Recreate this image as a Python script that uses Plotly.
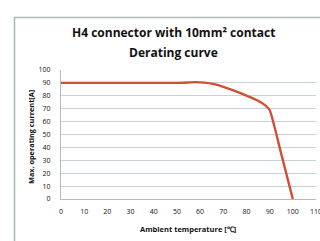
import plotly.graph_objects as go

temps = [0, 10, 20, 30, 40, 50, 55, 58, 62, 66, 70, 75, 80, 85, 88, 90, 95, 100]
current = [90, 90, 90, 90, 90, 90, 90.3, 90.6, 90.2, 89.0, 87.0, 83.8, 80.2, 76.2, 72.8, 69, 35, 0]
x_ticks = [0, 10, 20, 30, 40, 50, 60, 70, 80, 90, 100, 110]
y_ticks = [0, 10, 20, 30, 40, 50, 60, 70, 80, 90, 100]

W, H = 320, 241
L, R, T, B = 61, 4, 70, 42
pw, ph = W - L - R, H - T - B

def px(x):
    return (x - L) / pw

def py(y):
    return (H - B - y) / ph

fig = go.Figure()
fig.add_trace(go.Scatter(x=temps, y=current, mode="lines",
                         line=dict(color="#d24e35", width=2.4, shape="spline", smoothing=0.5),
                         hoverinfo="skip", showlegend=False))

fig.update_layout(
    width=W, height=H,
    margin=dict(l=L, r=R, t=T, b=B, autoexpand=False),
    paper_bgcolor="white", plot_bgcolor="white",
    font=dict(family="Open Sans", color="#111"),
    xaxis=dict(range=[0, 110], tickvals=x_ticks, showgrid=False, zeroline=False,
               showline=True, linecolor="#b8b8b8", linewidth=1, automargin=False,
               tickfont=dict(size=7, color="#111"), ticks="", ticklabelstandoff=6,
               ticklabeloverflow="allow"),
    yaxis=dict(range=[0, 100], tickvals=y_ticks, showgrid=True, gridcolor="#c5d3d8",
               gridwidth=1, zeroline=False, showline=True, linecolor="#b8b8b8",
               linewidth=1, automargin=False, tickfont=dict(size=7, color="#111"),
               ticks="", ticklabelstandoff=8),
    shapes=[dict(type="rect", xref="paper", yref="paper",
                 x0=px(14.5), y0=py(300), x1=px(340), y1=py(17.5),
                 line=dict(color="#b0b8b8", width=1.6), layer="below")],
    annotations=[
        dict(text="<b>H4 connector with 10mm² contact</b>", xref="paper", yref="paper",
             x=px(173), y=py(33), xanchor="center", yanchor="middle", showarrow=False,
             font=dict(size=12, color="#111")),
        dict(text="<b>Derating curve</b>", xref="paper", yref="paper",
             x=px(173), y=py(52), xanchor="center", yanchor="middle", showarrow=False,
             font=dict(size=12, color="#111")),
        dict(text="<b>Ambient temperature [℃]</b>", xref="paper", yref="paper",
             x=px(188), y=py(229), xanchor="center", yanchor="middle", showarrow=False,
             font=dict(size=7.5, color="#111")),
        dict(text="<b>Max. operating current[A]</b>", xref="paper", yref="paper",
             x=px(31), y=py(137), xanchor="center", yanchor="middle", showarrow=False,
             textangle=-90, font=dict(size=7.3, color="#111")),
    ],
)

fig.write_html("out.html", config={"displayModeBar": False},
               post_script="document.body.style.margin='0';document.body.style.overflow='hidden';")
